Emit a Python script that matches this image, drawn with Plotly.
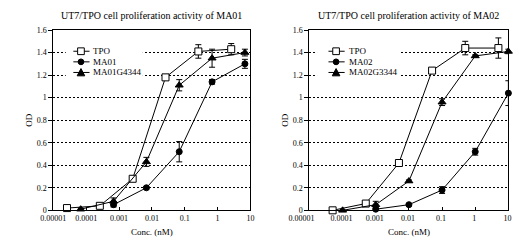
import plotly.graph_objects as go

# ---- data: left panel (MA01) ----
tpo1_x = [2.6e-5, 2.6e-4, 2.6e-3, 2.6e-2, 0.26, 2.6]
tpo1_y = [0.02, 0.04, 0.28, 1.18, 1.41, 1.43]
tpo1_err = [0.01, 0.01, 0.01, 0.01, 0.06, 0.05]

ma01_x = [6.8e-4, 6.8e-3, 0.068, 0.68, 6.8]
ma01_y = [0.05, 0.20, 0.52, 1.14, 1.30]
ma01_err = [0.02, 0.01, 0.09, 0.02, 0.04]

g4344_x = [6.8e-5, 6.8e-4, 6.8e-3, 0.068, 0.68, 6.8]
g4344_y = [0.01, 0.08, 0.43, 1.11, 1.35, 1.40]
g4344_err = [0.01, 0.03, 0.04, 0.05, 0.08, 0.03]

# ---- data: right panel (MA02) ----
tpo2_x = [5e-5, 5e-4, 5e-3, 0.05, 0.5, 5]
tpo2_y = [0.00, 0.06, 0.42, 1.24, 1.44, 1.44]
tpo2_err = [0.01, 0.01, 0.02, 0.01, 0.06, 0.09]

ma02_x = [0.001, 0.01, 0.1, 1, 10]
ma02_y = [0.01, 0.05, 0.18, 0.52, 1.04]
ma02_err = [0.01, 0.01, 0.03, 0.03, 0.11]

g3344_x = [1e-4, 1e-3, 1e-2, 0.1, 1, 10]
g3344_y = [0.00, 0.05, 0.26, 0.96, 1.37, 1.41]
g3344_err = [0.00, 0.03, 0.01, 0.03, 0.01, 0.02]

x_tickvals = [1e-5, 1e-4, 1e-3, 1e-2, 1e-1, 1, 10]
x_ticktext = ["0.00001", "0.0001", "0.001", "0.01", "0.1", "1", "10"]
x_ticktext_r = ["0.00001" + "\u00a0" * 7, "0.0001", "0.001", "0.01", "0.1", "1", "10"]

titles = ["UT7/TPO cell proliferation activity of MA01",
          "UT7/TPO cell proliferation activity of MA02"]
legend_names = [["TPO", "MA01", "MA01G4344"], ["TPO", "MA02", "MA02G3344"]]

FONT = "Liberation Serif, Times New Roman, serif"
W, H = 520, 251

fig = go.Figure()

def add(x, y, err, name, symbol, filled, xa, ya):
    fig.add_trace(go.Scatter(
        x=x, y=y, name=name, mode="lines+markers",
        xaxis=xa, yaxis=ya, showlegend=False,
        line=dict(color="black", width=1),
        marker=dict(symbol=symbol, size=7 if symbol != "circle" else 6,
                    color="black" if filled else "white",
                    line=dict(color="black", width=1)),
        error_y=dict(type="data", array=err, visible=True,
                     color="black", thickness=1, width=3),
        cliponaxis=False,
    ))

styles = [("square", False), ("circle", True), ("triangle-up", True)]

add(tpo1_x, tpo1_y, tpo1_err, legend_names[0][0], *styles[0], "x", "y")
add(ma01_x, ma01_y, ma01_err, legend_names[0][1], *styles[1], "x", "y")
add(g4344_x, g4344_y, g4344_err, legend_names[0][2], *styles[2], "x", "y")

add(tpo2_x, tpo2_y, tpo2_err, legend_names[1][0], *styles[0], "x2", "y2")
add(ma02_x, ma02_y, ma02_err, legend_names[1][1], *styles[1], "x2", "y2")
add(g3344_x, g3344_y, g3344_err, legend_names[1][2], *styles[2], "x2", "y2")

xdoms = [[34 / W, 241 / W], [303 / W, 512 / W]]
ydom = [1 - 214 / H, 1 - 27 / H]

def xaxis_common(ticktext, shift=0):
    return dict(
        type="log", range=[-5, 1], tickvals=x_tickvals, ticktext=ticktext,
        showline=True, linecolor="black", linewidth=1, mirror=True,
        ticks="inside", ticklen=3, tickcolor="black", showgrid=False,
        ticklabeloverflow="allow", ticklabelshift=shift,
        tickfont=dict(family=FONT, size=8, color="black"),
        title=dict(text="Conc. (nM)", font=dict(family=FONT, size=9, color="black"), standoff=6),
        zeroline=False,
    )

yaxis_common = dict(
    range=[0, 1.6], dtick=0.2, tick0=0,
    showline=True, linecolor="black", linewidth=1, mirror=True,
    ticks="outside", ticklen=4, tickcolor="black",
    showgrid=True, gridcolor="black", griddash="2px,2px", gridwidth=1,
    tickfont=dict(family=FONT, size=8, color="black"),
    title=dict(text="OD", font=dict(family=FONT, size=9, color="black"), standoff=2),
    zeroline=False,
)

fig.update_layout(
    width=W, height=H,
    margin=dict(l=0, r=0, t=0, b=0),
    paper_bgcolor="white", plot_bgcolor="white",
    font=dict(family=FONT, color="black"),
    showlegend=False,
    xaxis=dict(domain=xdoms[0], anchor="y", **xaxis_common(x_ticktext)),
    yaxis=dict(domain=ydom, anchor="x", **yaxis_common),
    xaxis2=dict(domain=xdoms[1], anchor="y2", **xaxis_common(x_ticktext_r, -1)),
    yaxis2=dict(domain=ydom, anchor="x2", **yaxis_common),
)

def px(x):
    return x / W

def py(y):
    return 1 - y / H

# legend boxes (white, hide the gridlines behind the legend)
legend_boxes = [(47, 128), (311, 398)]
box_y = (42, 79)
for x0, x1 in legend_boxes:
    fig.add_shape(type="rect", xref="paper", yref="paper",
                  x0=px(x0), x1=px(x1), y0=py(box_y[1]), y1=py(box_y[0]),
                  fillcolor="white", line=dict(width=0), layer="above")

# legend samples + texts
legend_geo = [(55, 72, 63, 74), (323, 340, 331, 342)]
row_y = [49, 60, 71]
for p, (lx0, lx1, mx, tx) in enumerate(legend_geo):
    for r, (sym, filled) in enumerate(styles):
        yy = row_y[r]
        fig.add_shape(type="line", xref="paper", yref="paper",
                      x0=px(lx0), x1=px(lx1), y0=py(yy), y1=py(yy),
                      line=dict(color="black", width=1), layer="above")
        if sym == "square":
            fig.add_shape(type="rect", xref="paper", yref="paper",
                          x0=px(mx - 3.5), x1=px(mx + 3.5), y0=py(yy + 3.5), y1=py(yy - 3.5),
                          fillcolor="white", line=dict(color="black", width=1), layer="above")
        elif sym == "circle":
            fig.add_shape(type="circle", xref="paper", yref="paper",
                          x0=px(mx - 3), x1=px(mx + 3), y0=py(yy + 3), y1=py(yy - 3),
                          fillcolor="black", line=dict(color="black", width=1), layer="above")
        else:
            fig.add_shape(type="path", xref="paper", yref="paper",
                          path=(f"M {px(mx - 4)} {py(yy + 3.5)} L {px(mx + 4)} {py(yy + 3.5)} "
                                f"L {px(mx)} {py(yy - 4)} Z"),
                          fillcolor="black", line=dict(color="black", width=1), layer="above")
        fig.add_annotation(text=legend_names[p][r], x=px(tx), y=py(yy),
                           xref="paper", yref="paper", showarrow=False,
                           xanchor="left", yanchor="middle",
                           font=dict(family=FONT, size=9, color="black"))

for i, t in enumerate(titles):
    cx = (xdoms[i][0] + xdoms[i][1]) / 2
    fig.add_annotation(text=t, x=cx, y=py(12), xref="paper", yref="paper",
                       showarrow=False, xanchor="center", yanchor="middle",
                       font=dict(family=FONT, size=10, color="black"))

fig.write_html(
    "out.html",
    config={"displayModeBar": False},
    post_script="document.body.style.margin='0';document.body.style.overflow='hidden';",
)
